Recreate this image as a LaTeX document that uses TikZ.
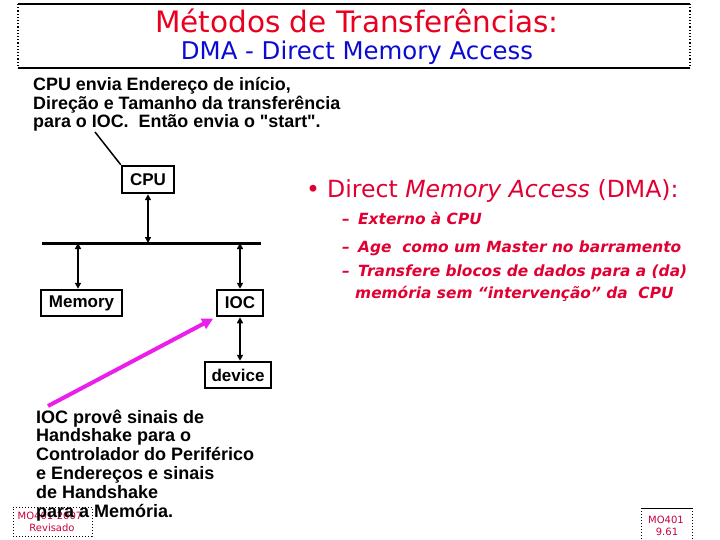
\documentclass[tikz,border=0pt]{standalone}
\usepackage{fontspec}
\setmainfont{Liberation Sans}
\newfontfamily\comic{DejaVu Sans}
\usetikzlibrary{arrows.meta}
\definecolor{ttlred}{RGB}{232,0,32}
\definecolor{ttlblue}{RGB}{10,10,210}
\definecolor{dmared}{RGB}{225,0,50}
\definecolor{boxred}{RGB}{200,0,60}
\definecolor{magen}{RGB}{235,30,235}
\begin{document}
\begin{tikzpicture}[x=1pt,y=-1pt,
  blk/.style={draw,line width=2.5pt,inner sep=0pt,font=\fontsize{17}{17}\selectfont\bfseries},
  dbl/.style={line width=2pt,{Triangle[length=6pt,width=6pt]}-{Triangle[length=6pt,width=6pt]}},
  lefttxt/.style={anchor=base west,inner sep=0pt,font=\fontsize{17.9}{18.5}\selectfont\bfseries},
  bottxt/.style={anchor=base west,inner sep=0pt,font=\fontsize{18}{18.8}\selectfont\bfseries},
  dmahead/.style={anchor=base west,inner sep=0pt,text=dmared,font=\comic\fontsize{23.6}{23.6}\selectfont},
  dmaitem/.style={anchor=base west,inner sep=0pt,text=dmared,font=\comic\fontsize{15.4}{15.4}\selectfont\bfseries\itshape},
  smallred/.style={inner sep=0pt,text=boxred,font=\comic\fontsize{10}{10}\selectfont},
  frameline/.style={line width=1.2pt},
  framedot/.style={line width=1.2pt,dotted}
]
\useasboundingbox (0,0) rectangle (720,540);
% title frame
\coordinate (fa) at (18,4); \coordinate (fb) at (690,4);
\coordinate (fc) at (690,68); \coordinate (fd) at (18,68);
\draw[frameline] (fa) -- (fb); \draw[frameline] (fd) -- (fc);
\draw[framedot] (fa) -- (fd); \draw[framedot] (fb) -- (fc);
\node[anchor=base,inner sep=0pt,text=ttlred,font=\comic\fontsize{29.5}{29.5}\selectfont] (t1) at (357,33) {Métodos de Transferências:};
\node[anchor=base,inner sep=0pt,text=ttlblue,font=\comic\fontsize{24.4}{24.4}\selectfont] (t2) at (357,60) {DMA - Direct Memory Access};
% top-left text
\node[lefttxt] (tl1) at (33,91) {CPU envia Endereço de início,};
\node[lefttxt] (tl2) at (33,109.5) {Direção e Tamanho da transferência};
\node[lefttxt] (tl3) at (33,128) {para o IOC.\ \ Então envia o \textquotedbl start\textquotedbl.};
% boxes
\node[blk,minimum width=52pt,minimum height=27pt] (cpu) at (148,179.5) {CPU};
\node[blk,minimum width=81pt,minimum height=26pt] (mem) at (81.5,303) {Memory};
\node[blk,minimum width=46pt,minimum height=26pt] (ioc) at (240,303) {IOC};
\node[blk,minimum width=66pt,minimum height=26pt] (dev) at (238,375) {device};
% bus
\coordinate (busL) at (42,243); \coordinate (busR) at (261,243);
\draw[line width=3pt] (busL) -- (busR);
\coordinate (bm) at (78,243); \coordinate (bi) at (240,243);
\draw[dbl] (cpu.south) -- (cpu.south |- busL);
\draw[dbl] (bm) -- (bm |- mem.north);
\draw[dbl] (bi) -- (bi |- ioc.north);
\draw[dbl] (ioc.south) -- (ioc.south |- dev.north);
% pointer line
\coordinate (txtpt) at (95,132);
\draw[line width=1.5pt] (txtpt) -- (cpu.north west);
% magenta arrow
\coordinate (magtail) at (48,406);
\draw[magen,line width=4pt,-{Triangle[length=11pt,width=11pt]},shorten >=3pt] (magtail) -- (ioc.south west);
% right text
\node[dmahead] (bul) at (306,198) {•};
\node[dmahead] (dh) at (327,198) {Direct \textit{Memory Access} (DMA):};
\node[dmaitem] (d1a) at (342,225) {–};
\node[dmaitem] (d1) at (358,225) {Externo à CPU};
\node[dmaitem] (d2a) at (342,252) {–};
\node[dmaitem] (d2) at (358,252) {Age\ \ como um Master no barramento};
\node[dmaitem] (d3a) at (342,276) {–};
\node[dmaitem] (d3) at (358,276) {Transfere blocos de dados para a (da)};
\node[dmaitem] (d4) at (355,298) {memória sem “intervenção” da\ \ CPU};
% bottom-left small box
\coordinate (sa) at (13,507); \coordinate (sb) at (92,507);
\coordinate (sc) at (92,536); \coordinate (sd) at (13,536);
\draw[line width=1pt,dotted] (sa) -- (sb) -- (sc) -- (sd) -- cycle;
\node[smallred,anchor=base] (s1) at (50,519) {MO401-2007};
\node[smallred,anchor=base] (s2) at (52,531) {Revisado};
% bottom-right small box
\coordinate (ra) at (641,508); \coordinate (rb) at (692,508);
\coordinate (rc) at (692,542); \coordinate (rd) at (641,542);
\draw[line width=1pt] (ra) -- (rb);
\draw[line width=1pt,dotted] (ra) -- (rd); \draw[line width=1pt,dotted] (rb) -- (rc);
\node[smallred,anchor=base] (r1) at (666,523) {MO401};
\node[smallred,anchor=base] (r2) at (667,535) {9.61};
% bottom text
\node[bottxt] (b1) at (36,423) {IOC provê sinais de};
\node[bottxt] (b2) at (36,441.8) {Handshake para o};
\node[bottxt] (b3) at (36,460.6) {Controlador do Periférico};
\node[bottxt] (b4) at (36,479.4) {e Endereços e sinais};
\node[bottxt] (b5) at (36,498.2) {de Handshake};
\node[bottxt] (b6) at (36,517) {para a Memória.};
\end{tikzpicture}
\end{document}
